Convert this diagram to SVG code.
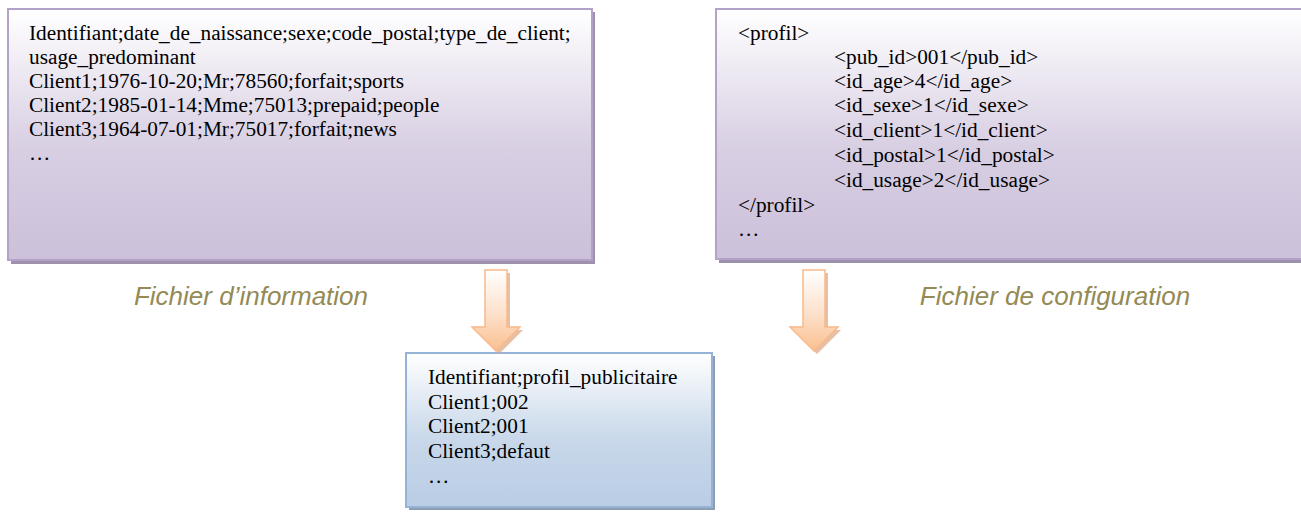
<svg xmlns="http://www.w3.org/2000/svg" width="1301" height="513" viewBox="0 0 1301 513">
<style>
.t{font-family:"Liberation Serif","Times New Roman",serif;font-size:21.3px;fill:#000}
.lbl{font-family:"Liberation Sans",Arial,sans-serif;font-size:26px;font-style:italic;fill:#948A54;text-anchor:middle}
.pbox{fill:url(#gPurple);stroke:#B3A2C7;stroke-width:2}
.bbox{fill:url(#gBlue);stroke:#95B3D7;stroke-width:2}
.pshadow{fill:#9D91AE}
.bshadow{fill:#8E9DB2}
.arrow{fill:url(#gOrange);stroke:#F9B98A;stroke-width:1.5}
.ashadow{fill:#DDAA85;opacity:0.75}
</style>
<defs>
<linearGradient id="gPurple" x1="0" y1="0" x2="0" y2="1">
<stop offset="0" stop-color="#FFFFFF"/>
<stop offset="0.55" stop-color="#D8CFE3"/>
<stop offset="1" stop-color="#CCC0DA"/>
</linearGradient>
<linearGradient id="gBlue" x1="0" y1="0" x2="0" y2="1">
<stop offset="0" stop-color="#FFFFFF"/>
<stop offset="0.55" stop-color="#C9D8EA"/>
<stop offset="1" stop-color="#B9CDE5"/>
</linearGradient>
<linearGradient id="gOrange" x1="0" y1="0" x2="0" y2="1">
<stop offset="0" stop-color="#FFFFFF"/>
<stop offset="0.5" stop-color="#FDE3CF"/>
<stop offset="1" stop-color="#FAC090"/>
</linearGradient>
</defs>

<g id="fichier-information">
<rect class="pshadow" x="11" y="12" width="584" height="252"/>
<rect class="pbox" x="8" y="9" width="584" height="251"/>
<text class="t" x="29" y="40">Identifiant;date_de_naissance;sexe;code_postal;type_de_client;</text>
<text class="t" x="29" y="64">usage_predominant</text>
<text class="t" x="29" y="87.5">Client1;1976-10-20;Mr;78560;forfait;sports</text>
<text class="t" x="29" y="111.5">Client2;1985-01-14;Mme;75013;prepaid;people</text>
<text class="t" x="29" y="135.5">Client3;1964-07-01;Mr;75017;forfait;news</text>
<text class="t" x="29" y="159.5">…</text>
</g>

<g id="fichier-configuration">
<rect class="pshadow" x="719" y="12" width="600" height="251"/>
<rect class="pbox" x="716" y="9" width="600" height="250"/>
<text class="t" x="738" y="39.5">&lt;profil&gt;</text>
<text class="t" x="834" y="63.5">&lt;pub_id&gt;001&lt;/pub_id&gt;</text>
<text class="t" x="834" y="87.6">&lt;id_age&gt;4&lt;/id_age&gt;</text>
<text class="t" x="834" y="112">&lt;id_sexe&gt;1&lt;/id_sexe&gt;</text>
<text class="t" x="834" y="137">&lt;id_client&gt;1&lt;/id_client&gt;</text>
<text class="t" x="834" y="162">&lt;id_postal&gt;1&lt;/id_postal&gt;</text>
<text class="t" x="834" y="186.8">&lt;id_usage&gt;2&lt;/id_usage&gt;</text>
<text class="t" x="738" y="211.6">&lt;/profil&gt;</text>
<text class="t" x="738" y="236.4">…</text>
</g>

<g id="label-information">
<text class="lbl" x="251" y="305">Fichier d’information</text>
</g>
<g id="label-configuration">
<text class="lbl" x="1055" y="305">Fichier de configuration</text>
</g>

<g id="resultat">
<rect class="bshadow" x="409" y="356" width="306" height="154"/>
<rect class="bbox" x="406" y="353" width="306" height="154"/>
<text class="t" x="428" y="384">Identifiant;profil_publicitaire</text>
<text class="t" x="428" y="408.5">Client1;002</text>
<text class="t" x="428" y="433">Client2;001</text>
<text class="t" x="428" y="458">Client3;defaut</text>
<text class="t" x="428" y="483">…</text>
</g>

<g id="connectors">
<path class="ashadow" d="M488,273 H510 V330 H523 L499,354 L475,330 H488 Z"/>
<path class="arrow" d="M485,270 H507 V327 H520 L496,351 L472,327 H485 Z"/>
<path class="ashadow" d="M806,273 H828 V330 H841 L817,354 L793,330 H806 Z"/>
<path class="arrow" d="M803,270 H825 V327 H838 L814,351 L790,327 H803 Z"/>
</g>
</svg>
